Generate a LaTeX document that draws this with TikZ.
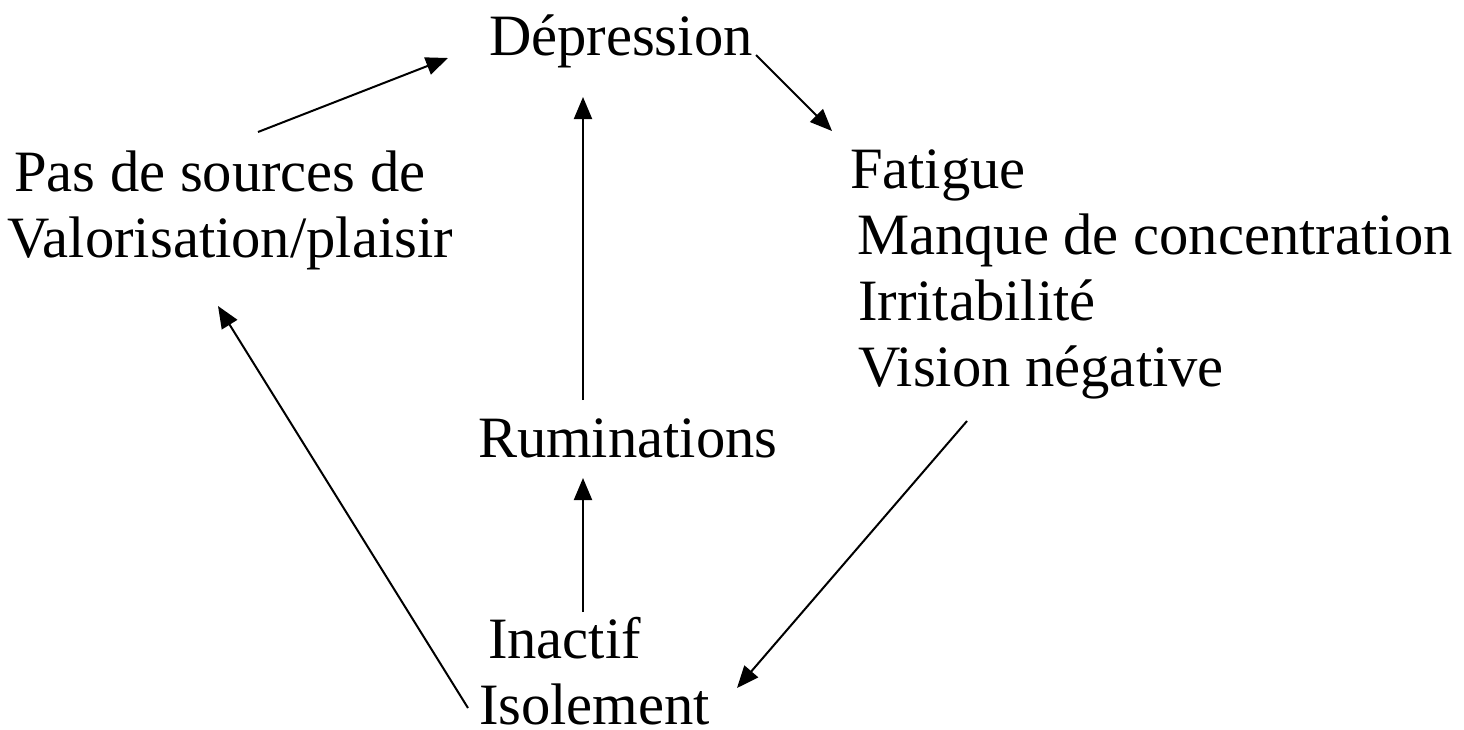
\documentclass[tikz,border=0pt]{standalone}
\usepackage{fontspec}
\setmainfont{Liberation Serif}
\usetikzlibrary{arrows.meta}
\begin{document}
\begin{tikzpicture}[x=1pt,y=-1pt,
  lbl/.style={inner sep=0pt, outer sep=0pt, anchor=base west, align=left,
    font=\fontsize{58.6}{66}\selectfont},
  arr/.style={line width=2pt, -{Triangle[length=22pt,width=18pt]}}]
\useasboundingbox (0,0) rectangle (1464,729);

% labels of the cycle (multi-line labels are placed by their last baseline)
\node[lbl] (dep) at (489,55) {Dépression};
\node[lbl] (pas) at (14,257) {Pas de sources de\\\hspace*{-7pt}Valorisation/plaisir};
\node[lbl] (fat) at (850,386) {Fatigue\\\hspace*{7pt}Manque de concentration\\\hspace*{8pt}Irritabilité\\\hspace*{8pt}Vision négative};
\node[lbl] (rum) at (478,457) {Ruminations};
\node[lbl] (ina) at (479,724) {\hspace*{9pt}Inactif\\Isolement};

% arrow end points
\coordinate (pasOut) at (258,132);
\coordinate (depInL) at (448,58);
\coordinate (depOut) at (756,55);
\coordinate (fatIn)  at (832,131);
\coordinate (fatOut) at (967,421);
\coordinate (inaIn)  at (737,688);
\coordinate (inaUp)  at (583,612);
\coordinate (rumIn)  at (583,478);
\coordinate (rumUp)  at (583,400);
\coordinate (depInB) at (583,97);
\coordinate (inaOut) at (468,708);
\coordinate (pasIn)  at (218,306);

% connectors
\draw[arr] (pasOut) -- (depInL);
\draw[arr] (depOut) -- (fatIn);
\draw[arr] (fatOut) -- (inaIn);
\draw[arr] (inaUp) -- (rumIn);
\draw[arr] (rumUp) -- (depInB);
\draw[arr] (inaOut) -- (pasIn);
\end{tikzpicture}
\end{document}
